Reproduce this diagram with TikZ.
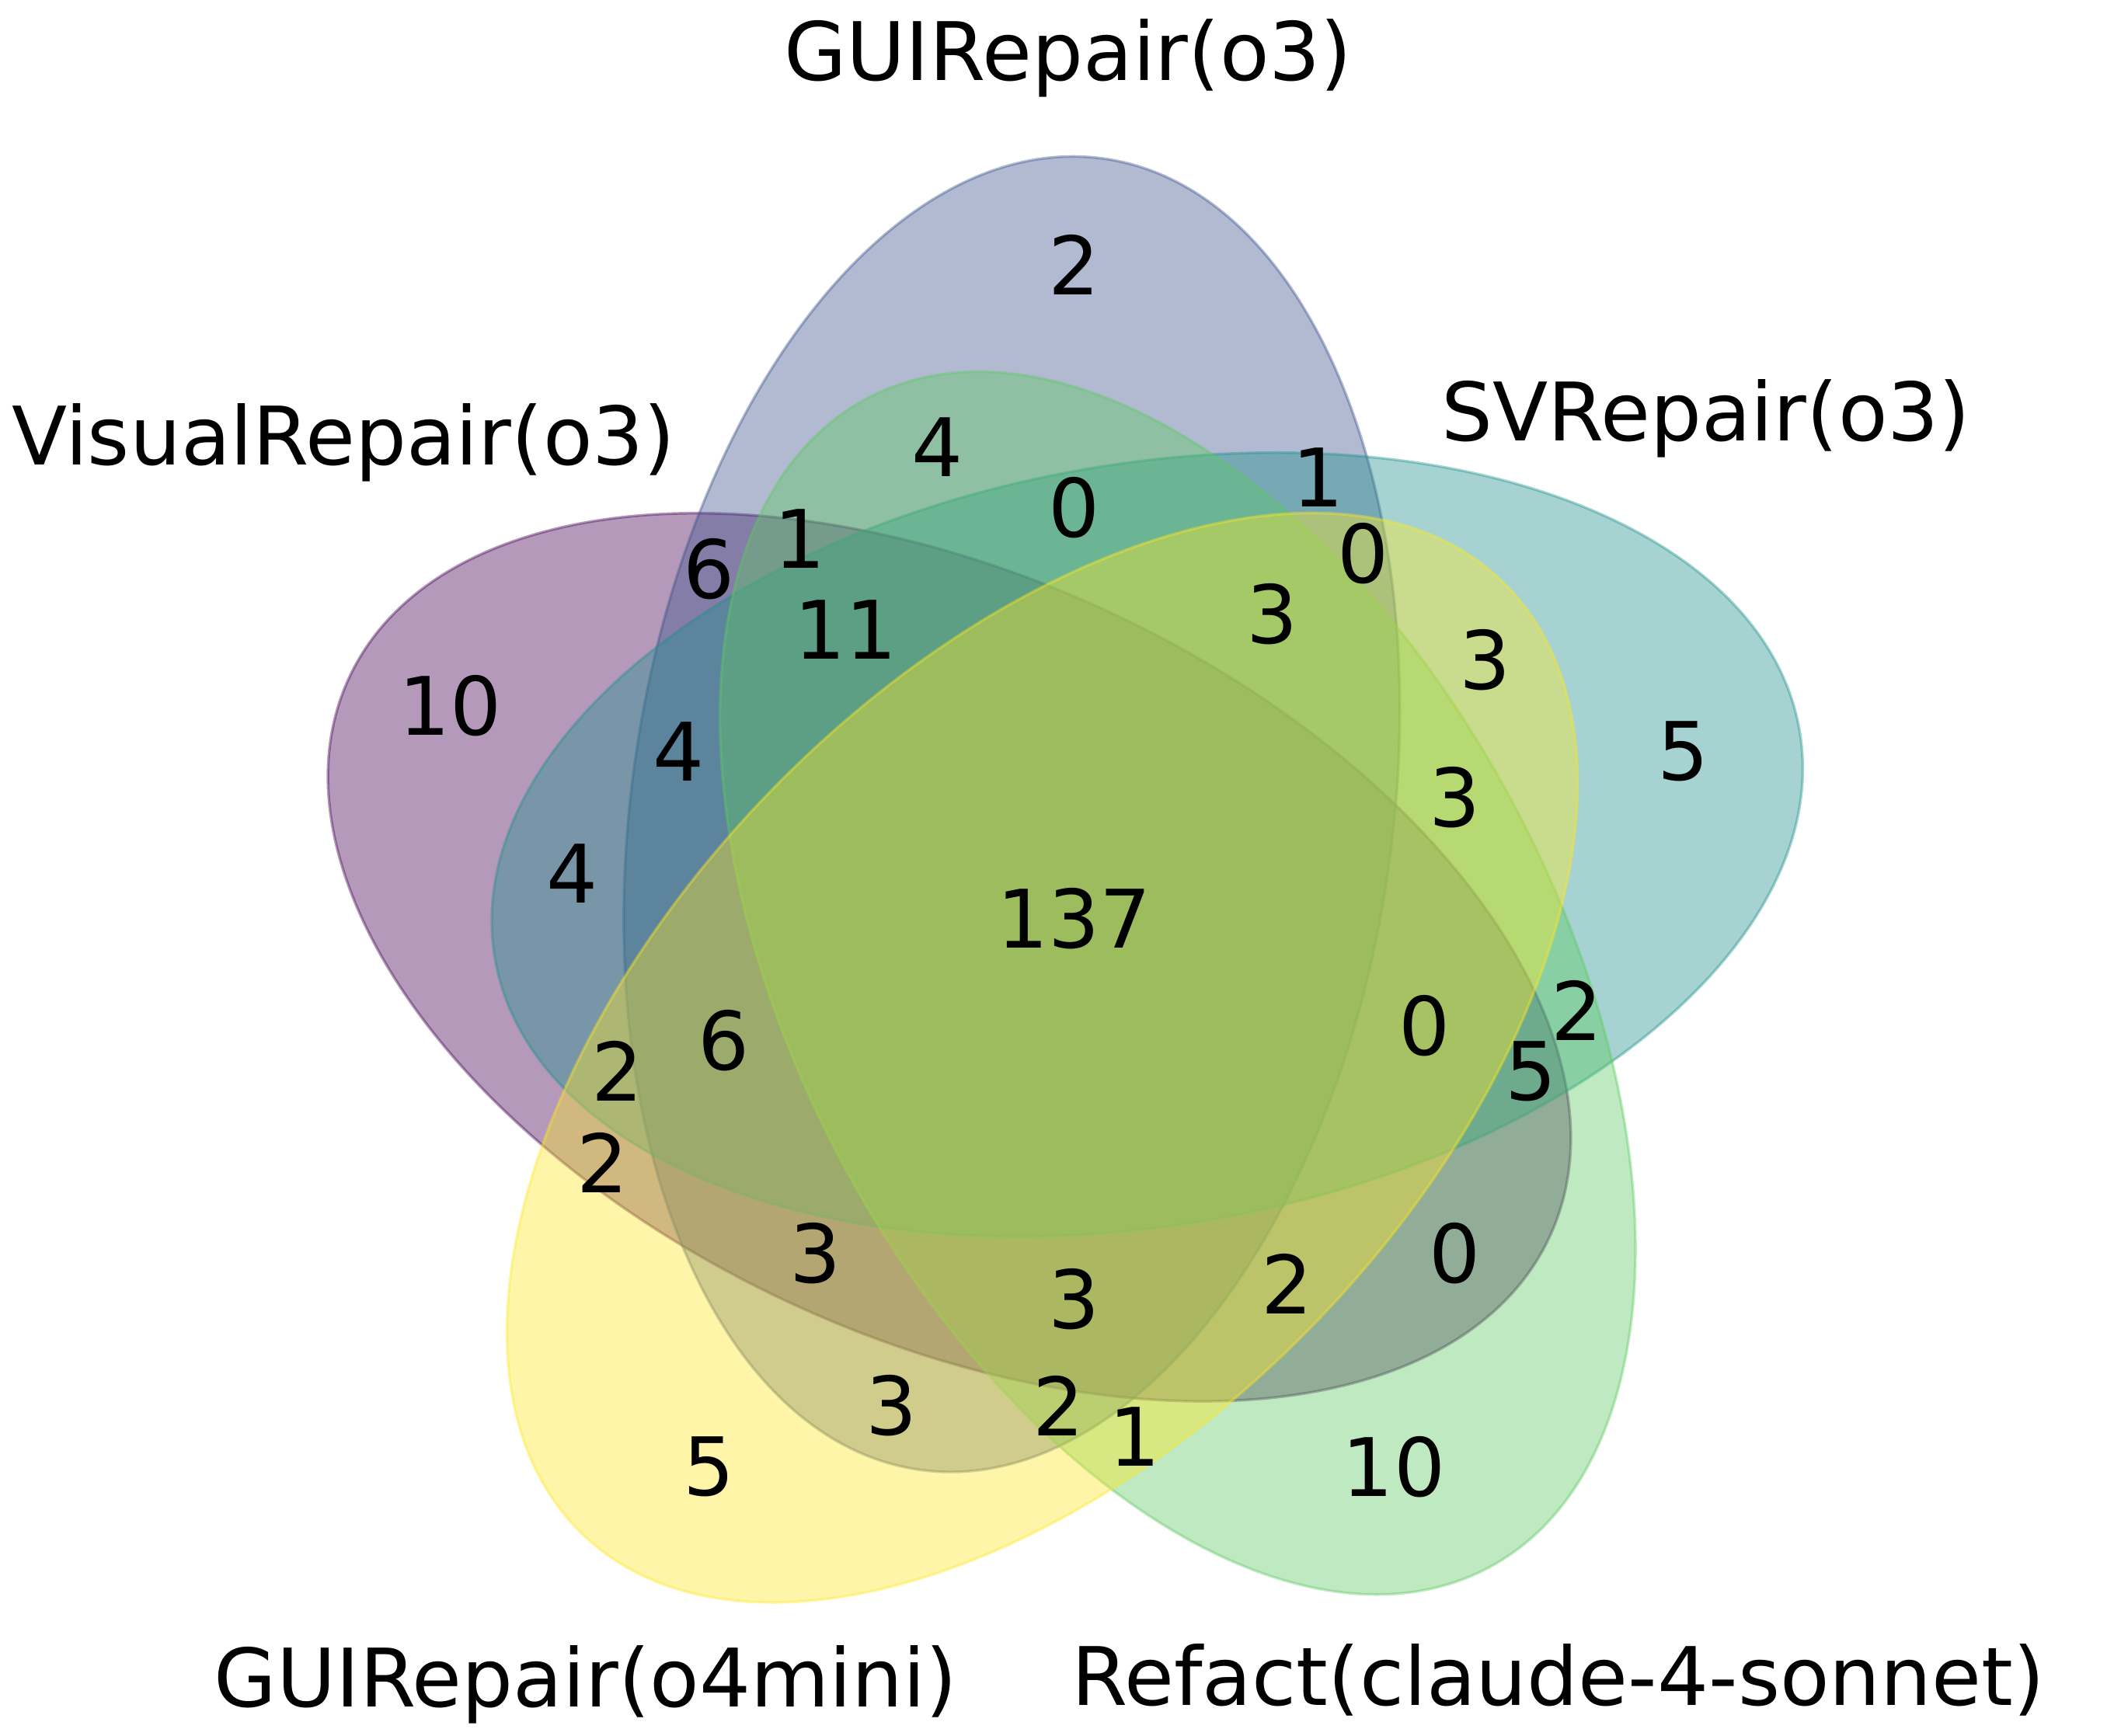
\documentclass[tikz,border=0pt]{standalone}
\usepackage{fontspec}
\setmainfont{DejaVu Sans}
\usepackage{xcolor}
\usepackage{tikz}
\usetikzlibrary{positioning}
\definecolor{vispurple}{RGB}{68, 1, 84}
\definecolor{guiblue}{RGB}{59, 82, 139}
\definecolor{svteal}{RGB}{33, 145, 140}
\definecolor{refgreen}{RGB}{94, 201, 98}
\definecolor{miniyellow}{RGB}{253, 231, 37}

\begin{document}
\begin{tikzpicture}[
    x=10cm, y=10cm,
    petal/.style={line width=0.5pt, opacity=0.4},
    count/.style={inner sep=0pt, yshift=1.2pt, font=\fontsize{15.1}{18}\selectfont},
    setname/.style={inner sep=0pt, font=\fontsize{15.1}{18}\selectfont}
]
    \useasboundingbox (-0.1957,-0.0623) rectangle (1.1931,1.0780);

    % the five sets
    \draw[petal, draw=vispurple, fill=vispurple, rotate around={155:(0.428,0.449)}] (0.428,0.449) ellipse (0.435 and 0.25);
    \draw[petal, draw=guiblue, fill=guiblue, rotate around={82:(0.469,0.543)}] (0.469,0.543) ellipse (0.435 and 0.25);
    \draw[petal, draw=svteal, fill=svteal, rotate around={10:(0.558,0.523)}] (0.558,0.523) ellipse (0.435 and 0.25);
    \draw[petal, draw=refgreen, fill=refgreen, rotate around={118:(0.578,0.432)}] (0.578,0.432) ellipse (0.435 and 0.25);
    \draw[petal, draw=miniyellow, fill=miniyellow, rotate around={46:(0.489,0.383)}] (0.489,0.383) ellipse (0.435 and 0.25);

    % set names
    \node[setname] (visual) at (0.030,0.787) {VisualRepair(o3)};
    \node[setname] (guio3) at (0.506,1.040) {GUIRepair(o3)};
    \node[setname] (svrepair) at (0.925,0.803) {SVRepair(o3)};
    \node[setname] (refact) at (0.828,-0.026) {Refact(claude-4-sonnet)};
    \node[setname] (guimini) at (0.189,-0.029) {GUIRepair(o4mini)};

    % counts
    \node[count] (c00001) at (0.27,0.11) {5};
    \node[count] (c00010) at (0.72,0.11) {10};
    \node[count] (c00011) at (0.55,0.13) {1};
    \node[count] (c00100) at (0.91,0.58) {5};
    \node[count] (c00101) at (0.78,0.64) {3};
    \node[count] (c00110) at (0.84,0.41) {2};
    \node[count] (c00111) at (0.76,0.55) {3};
    \node[count] (c01000) at (0.51,0.90) {2};
    \node[count] (c01001) at (0.39,0.15) {3};
    \node[count] (c01010) at (0.42,0.78) {4};
    \node[count] (c01011) at (0.50,0.15) {2};
    \node[count] (c01100) at (0.67,0.76) {1};
    \node[count] (c01101) at (0.70,0.71) {0};
    \node[count] (c01110) at (0.51,0.74) {0};
    \node[count] (c01111) at (0.64,0.67) {3};
    \node[count] (c10000) at (0.10,0.61) {10};
    \node[count] (c10001) at (0.20,0.31) {2};
    \node[count] (c10010) at (0.76,0.25) {0};
    \node[count] (c10011) at (0.65,0.23) {2};
    \node[count] (c10100) at (0.18,0.50) {4};
    \node[count] (c10101) at (0.21,0.37) {2};
    \node[count] (c10110) at (0.81,0.37) {5};
    \node[count] (c10111) at (0.74,0.40) {0};
    \node[count] (c11000) at (0.27,0.70) {6};
    \node[count] (c11001) at (0.34,0.25) {3};
    \node[count] (c11010) at (0.33,0.72) {1};
    \node[count] (c11011) at (0.51,0.22) {3};
    \node[count] (c11100) at (0.25,0.58) {4};
    \node[count] (c11101) at (0.28,0.39) {6};
    \node[count] (c11110) at (0.36,0.66) {11};
    \node[count] (c11111) at (0.51,0.47) {137};
\end{tikzpicture}
\end{document}
